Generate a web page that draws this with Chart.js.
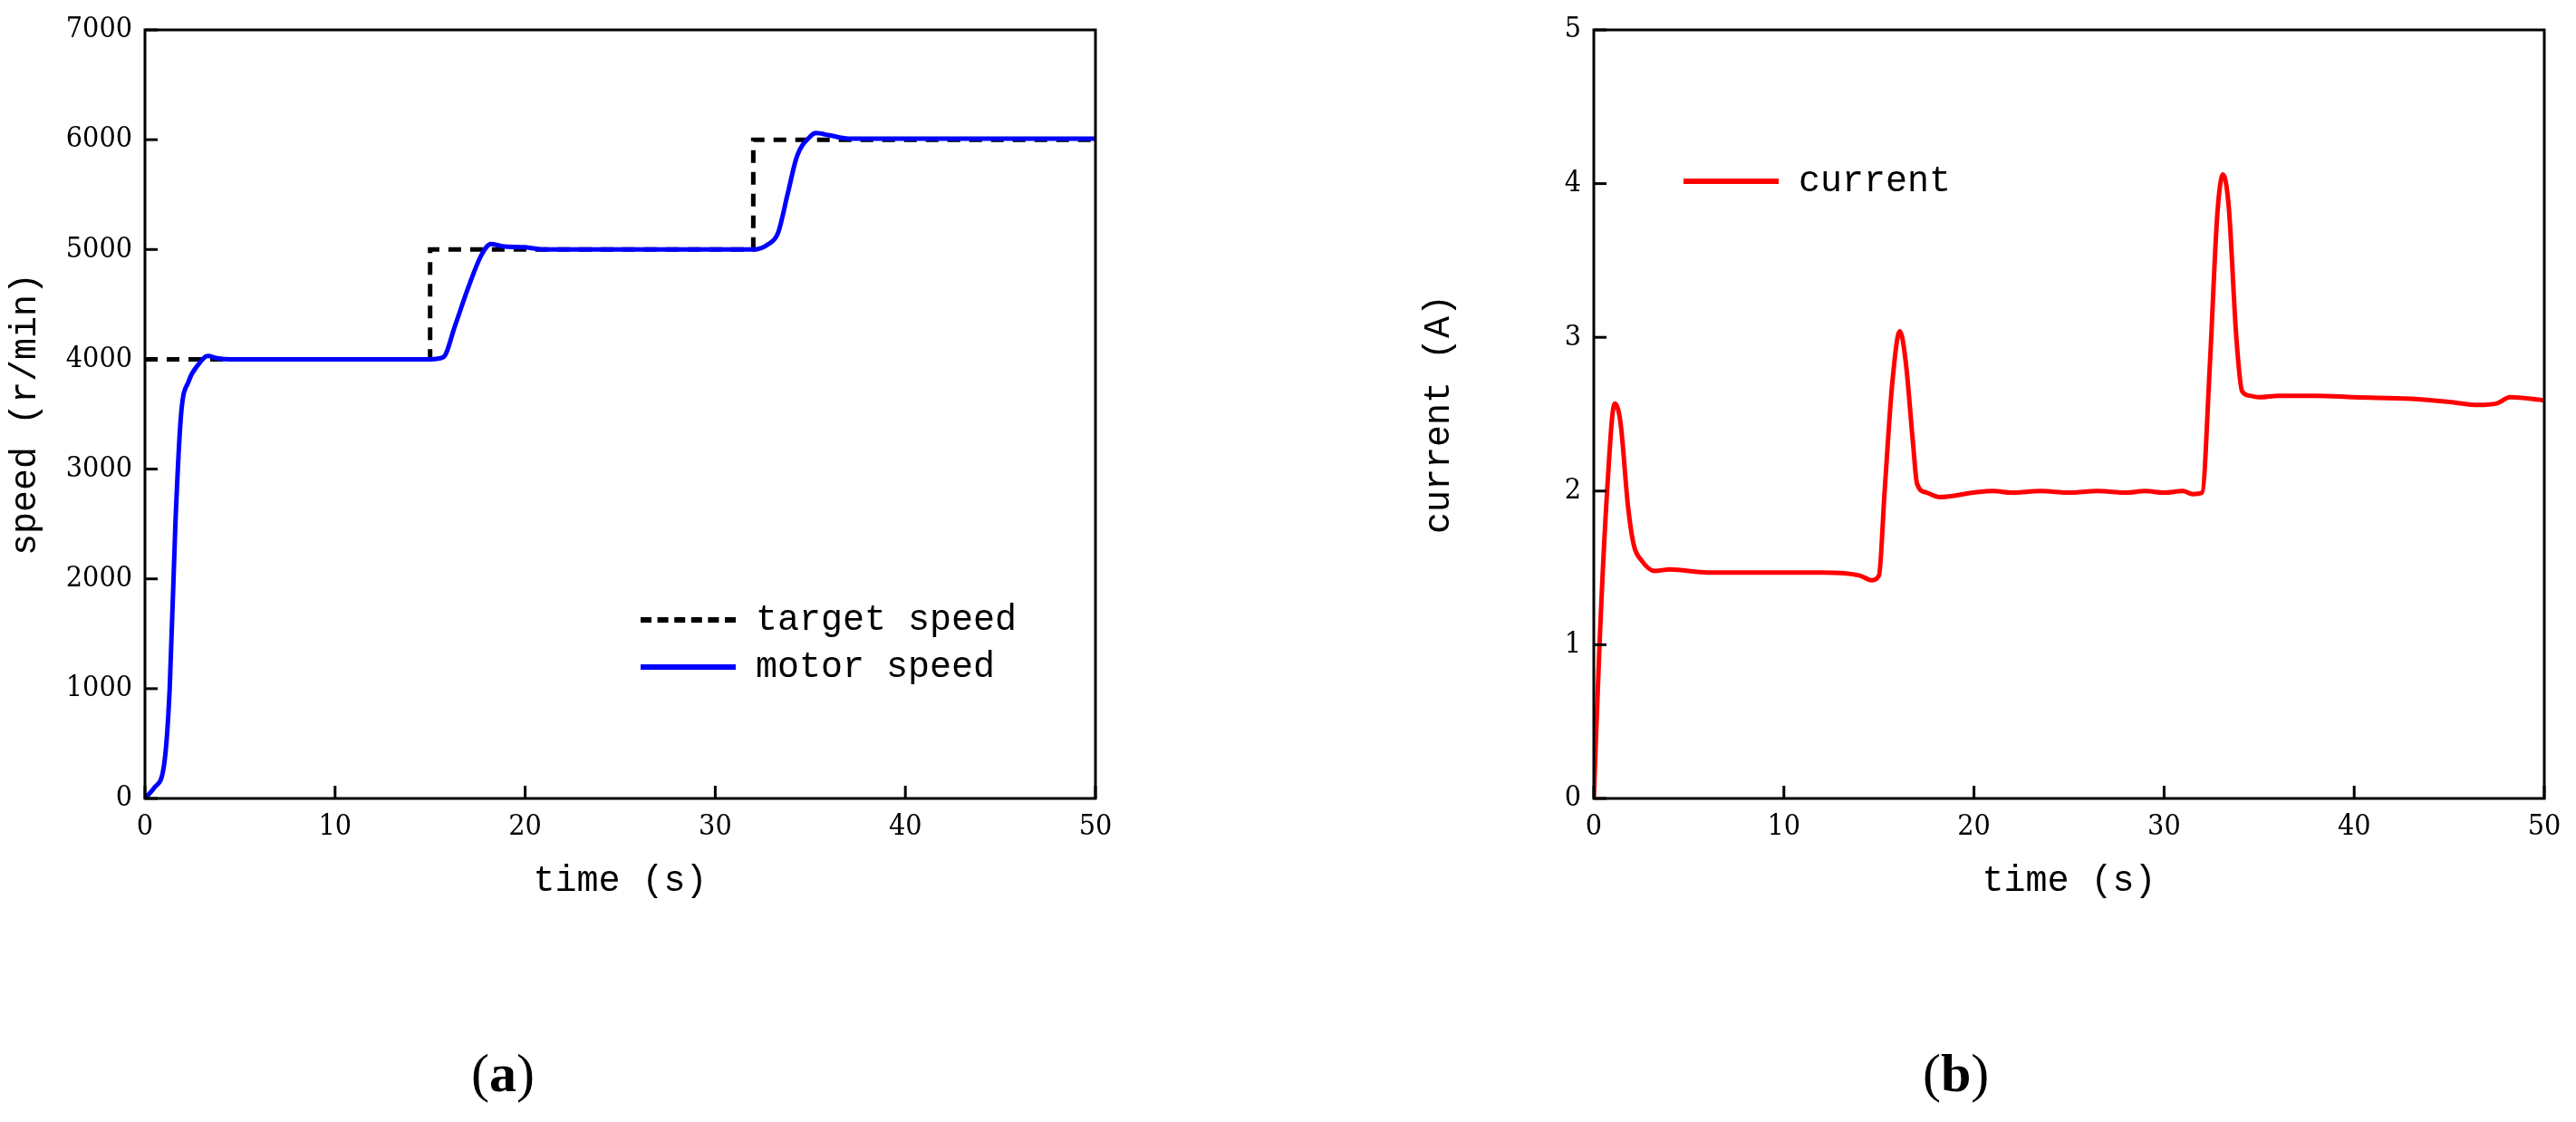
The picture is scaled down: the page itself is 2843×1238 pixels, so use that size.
<!DOCTYPE html>
<html>
<head>
<meta charset="utf-8">
<script src="https://cdn.jsdelivr.net/npm/chart.js@4"></script>
<style>
  body { margin: 0; width: 2843px; height: 1238px; background: #fff; position: relative; overflow: hidden; }
  .box { position: absolute; top: 0; height: 1000px; }
  .lg { position: absolute; font-family: "Liberation Mono", monospace; font-size: 40px; color: #000; white-space: nowrap; }
  .lg span.ln { display: inline-block; width: 105px; vertical-align: middle; margin-right: 22px; }
  .cap { position: absolute; top: 1150px; font-family: "Liberation Serif", serif; font-size: 60px; }
</style>
</head>
<body>
<div class="box" style="left:0;width:1300px"><canvas id="speedChart"></canvas></div>
<div class="box" style="left:1560px;width:1283px"><canvas id="currentChart"></canvas></div>
<div class="lg" style="left:707px;top:662px"><span class="ln" style="border-top:6px dashed #000"></span>target speed</div>
<div class="lg" style="left:707px;top:714px"><span class="ln" style="border-top:6px solid #0000ff"></span>motor speed</div>
<div class="lg" style="left:1858px;top:178px"><span class="ln" style="border-top:6px solid #ff0000"></span>current</div>
<div class="cap" style="left:520px">(<b>a</b>)</div>
<div class="cap" style="left:2122px">(<b>b</b>)</div>
<script>
// time (s) / values
const targetT = [0, 15, 15, 32, 32, 50];
const targetV = [4000, 4000, 5000, 5000, 6000, 6000];

const motorT = [0, 0.5, 1, 1.3, 1.6, 1.9, 2.3, 2.8, 3.3, 3.8, 4.5, 15, 15.7, 16.3, 17, 17.7, 18.2, 18.8, 20, 21, 32, 32.8, 33.3, 33.8, 34.3, 35, 35.3, 36, 37, 50];
const motorV = [0, 100, 300, 1000, 2500, 3500, 3800, 3950, 4030, 4010, 4000, 4000, 4020, 4300, 4650, 4950, 5050, 5030, 5020, 5000, 5000, 5050, 5150, 5500, 5850, 6030, 6060, 6040, 6010, 6010];

const currT = [0, 0.3, 0.7, 1.1, 1.4, 1.8, 2.1, 2.5, 3.2, 4, 6, 10, 12, 14, 14.6, 15, 15.3, 15.7, 16.1, 16.4, 16.8, 17, 17.5, 18.2, 20, 21, 22, 23.5, 25, 26.5, 28, 29, 30, 31, 31.5, 32, 32.4, 32.8, 33.1, 33.4, 33.8, 34.1, 34.5, 35, 36, 38, 40, 43, 45, 46.5, 47.5, 48.2, 50];
const currV = [0, 1.0, 2.0, 2.57, 2.45, 1.9, 1.65, 1.55, 1.48, 1.49, 1.47, 1.47, 1.47, 1.45, 1.42, 1.45, 2.0, 2.7, 3.04, 2.85, 2.3, 2.05, 1.99, 1.96, 1.99, 2.0, 1.99, 2.0, 1.99, 2.0, 1.99, 2.0, 1.99, 2.0, 1.98, 1.99, 2.8, 3.8, 4.06, 3.85, 3.0, 2.65, 2.62, 2.61, 2.62, 2.62, 2.61, 2.6, 2.58, 2.56, 2.57, 2.61, 2.59];

const xTicks = [0, 10, 20, 30, 40, 50];

function pts(t, v) { return t.map((x, i) => ({ x: x, y: v[i] })); }

// frame + inward tick marks
const framePlugin = {
  id: 'frame',
  afterDraw(chart) {
    const a = chart.chartArea, c = chart.ctx;
    c.save();
    c.strokeStyle = '#000';
    c.lineWidth = 3;
    c.strokeRect(a.left, a.top, a.right - a.left, a.bottom - a.top);
    ['x', 'y'].forEach(id => {
      const s = chart.scales[id];
      s.ticks.forEach(t => {
        const p = s.getPixelForValue(t.value);
        c.beginPath();
        if (id === 'x') { c.moveTo(p, a.bottom); c.lineTo(p, a.bottom - 14); }
        else { c.moveTo(a.left, p); c.lineTo(a.left + 14, p); }
        c.stroke();
      });
    });
    c.restore();
  }
};

function makeOptions(yMax, yStep, yTitle, yWidth, rightPad) {
  const tickFont = { family: '"DejaVu Serif Condensed", "Liberation Serif", serif', size: 32 };
  const titleFont = { family: '"Liberation Mono", monospace', size: 40 };
  return {
    responsive: true,
    maintainAspectRatio: false,
    animation: false,
    layout: { padding: { top: 33, right: rightPad, left: 0, bottom: 0 } },
    plugins: { legend: { display: false }, tooltip: { enabled: false } },
    scales: {
      x: {
        type: 'linear', min: 0, max: 50,
        afterBuildTicks: s => { s.ticks = xTicks.map(v => ({ value: v })); },
        afterFit: s => { s.height = 119; },
        grid: { display: false }, border: { display: false },
        ticks: { color: '#000', font: tickFont, padding: 4, callback: v => String(v) },
        title: { display: true, text: 'time (s)', color: '#000', font: titleFont, padding: { top: 0 } }
      },
      y: {
        min: 0, max: yMax,
        afterFit: s => { s.width = yWidth; },
        grid: { display: false }, border: { display: false },
        ticks: { stepSize: yStep, color: '#000', font: tickFont, padding: 6, callback: v => String(v) },
        title: { display: true, text: yTitle, color: '#000', font: titleFont, padding: { bottom: 4 } }
      }
    }
  };
}

new Chart(document.getElementById('speedChart'), {
  type: 'line',
  data: {
    datasets: [
      { label: 'motor speed', data: pts(motorT, motorV), borderColor: '#0000ff', borderWidth: 5, pointRadius: 0, cubicInterpolationMode: 'monotone', fill: false },
      { label: 'target speed', data: pts(targetT, targetV), borderColor: '#000', borderWidth: 5, borderDash: [14, 10], pointRadius: 0, tension: 0, fill: false }
    ]
  },
  options: makeOptions(7000, 1000, 'speed (r/min)', 160, 91),
  plugins: [framePlugin]
});

new Chart(document.getElementById('currentChart'), {
  type: 'line',
  data: {
    datasets: [
      { label: 'current', data: pts(currT, currV), borderColor: '#ff0000', borderWidth: 5, pointRadius: 0, cubicInterpolationMode: 'monotone', fill: false }
    ]
  },
  options: makeOptions(5, 1, 'current (A)', 199, 35),
  plugins: [framePlugin]
});
</script>
</body>
</html>
